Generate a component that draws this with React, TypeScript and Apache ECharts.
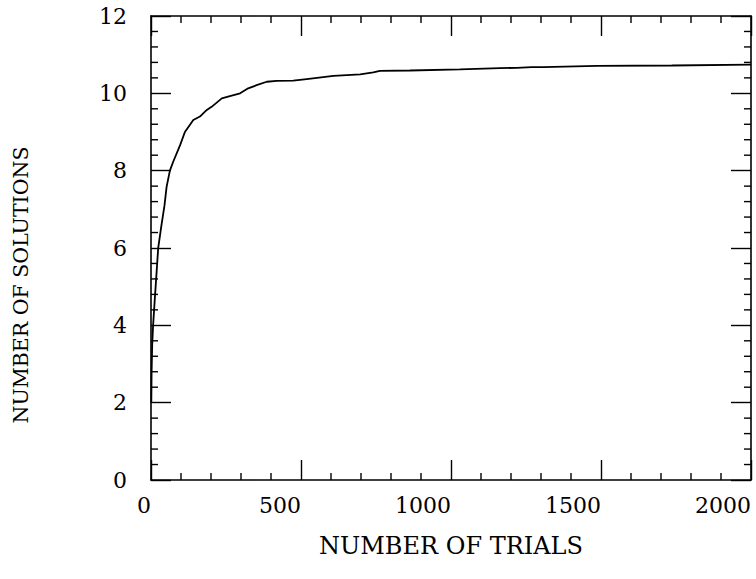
import React, { useEffect, useRef } from "react";
import * as echarts from "echarts";

const trials = [1, 2, 4, 7, 12, 18, 24, 35, 45, 52, 63, 74, 97, 113, 141, 163, 186, 202, 236, 263, 297, 324, 352, 386, 419, 474, 519, 608, 697, 741, 763, 863, 1030, 1163, 1219, 1269, 1307, 1486, 1736, 2000];
const solutions = [2.0, 2.8, 3.5, 4.0, 4.6, 5.3, 6.0, 6.6, 7.1, 7.58, 8.0, 8.23, 8.66, 9.0, 9.31, 9.4, 9.57, 9.65, 9.87, 9.93, 10.0, 10.13, 10.21, 10.3, 10.32, 10.33, 10.37, 10.45, 10.49, 10.54, 10.58, 10.59, 10.62, 10.65, 10.66, 10.68, 10.68, 10.71, 10.72, 10.74];

// minor tick positions (axis decoration)
const xMinorTicks = [100, 200, 300, 400, 600, 700, 800, 900, 1100, 1200, 1300, 1400, 1600, 1700, 1800, 1900];
const yMinorTicks = [0.4, 0.8, 1.2, 1.6, 2.4, 2.8, 3.2, 3.6, 4.4, 4.8, 5.2, 5.6, 6.4, 6.8, 7.2, 7.6, 8.4, 8.8, 9.2, 9.6, 10.4, 10.8, 11.2, 11.6];

const X_MIN = 0;
const X_MAX = 2000;
const Y_MIN = 0;
const Y_MAX = 12;

const xTitle = "NUMBER OF TRIALS";
const yTitle = "NUMBER OF SOLUTIONS";

const FONT = "DejaVu Serif";

export default function App() {
  const ref = useRef<HTMLDivElement>(null);
  useEffect(() => {
    if (!ref.current) return;
    const chart = echarts.init(ref.current, null, { renderer: "svg" });
    const line = { color: "#000", width: 1.6 };
    const tickStyle = { color: "#000", width: 1.4 };
    const MINOR = 7;
    const major = (len: number) => ({
      axisLine: { show: true, onZero: false, lineStyle: line },
      axisTick: { show: true, inside: true, length: len, lineStyle: tickStyle },
      splitLine: { show: false },
    });
    const xBase = { type: "value", min: X_MIN, max: X_MAX, interval: 500 };
    const yBase = { type: "value", min: Y_MIN, max: Y_MAX, interval: 2 };
    const st = { stroke: "#000", lineWidth: 1.4 };
    const xTickSeries = (yVal: number, dir: number) => ({
      type: "scatter",
      xAxisIndex: 0,
      yAxisIndex: 0,
      silent: true,
      clip: false,
      symbol: "rect",
      symbolSize: [1.4, MINOR],
      symbolOffset: [0, dir * MINOR / 2],
      itemStyle: { color: "#000", opacity: 1 },
      data: xMinorTicks.map((v) => [v, yVal]),
      z: 4,
    });
    chart.setOption({
      animation: false,
      backgroundColor: "#fff",
      grid: { left: 151, top: 16, right: 5, bottom: 99, containLabel: false },
      xAxis: [
        {
          ...xBase,
          ...major(20),
          position: "bottom",
          axisLabel: {
            show: true,
            color: "#000",
            fontFamily: FONT,
            fontSize: 22,
            margin: 14,
            align: "right",
            showMaxLabel: true,
            showMinLabel: true,
            formatter: (v: number) => String(v),
          },
        },
        { ...xBase, ...major(20), position: "top", axisLabel: { show: false } },
      ],
      yAxis: [
        {
          ...yBase,
          ...major(20),
          position: "left",
          axisLabel: {
            show: true,
            color: "#000",
            fontFamily: FONT,
            fontSize: 22,
            margin: 24,
            padding: [8, 0, 0, 0],
            formatter: (v: number) => String(v),
          },
        },
        { ...yBase, ...major(20), position: "right", axisLabel: { show: false } },
      ],
      graphic: [
        {
          type: "text",
          x: 451,
          y: 546,
          style: {
            text: xTitle,
            fontFamily: FONT,
            fontSize: 24,
            fill: "#000",
            align: "center",
            verticalAlign: "middle",
          },
        },
        {
          type: "text",
          x: 21,
          y: 285,
          rotation: Math.PI / 2,
          style: {
            text: yTitle,
            fontFamily: FONT,
            fontSize: 20.5,
            fill: "#000",
            align: "center",
            verticalAlign: "middle",
          },
        },
      ],
      series: [
        {
          type: "line",
          xAxisIndex: 0,
          yAxisIndex: 0,
          data: trials.map((t, i) => [t, solutions[i]]),
          showSymbol: false,
          symbol: "none",
          lineStyle: { color: "#000", width: 1.8 },
          clip: true,
          z: 3,
        },
        xTickSeries(Y_MIN, -1),
        xTickSeries(Y_MAX, 1),
        {
          type: "custom",
          name: "yMinorTicks",
          xAxisIndex: 0,
          yAxisIndex: 0,
          silent: true,
          clip: false,
          data: yMinorTicks.map((v) => [X_MIN, v]),
          encode: { x: 0, y: 1 },
          renderItem: (params: any, api: any) => {
            const v = api.value(1);
            const l = api.coord([X_MIN, v]);
            const r = api.coord([X_MAX, v]);
            return {
              type: "group",
              children: [
                { type: "line", shape: { x1: l[0], y1: l[1], x2: l[0] + MINOR, y2: l[1] }, style: st },
                { type: "line", shape: { x1: r[0], y1: r[1], x2: r[0] - MINOR, y2: r[1] }, style: st },
              ],
            };
          },
        },
      ],
    });
    return () => chart.dispose();
  }, []);
  return (
    <div
      ref={ref}
      style={{ position: "fixed", left: 0, top: 0, width: 756, height: 579, background: "#fff" }}
    />
  );
}
